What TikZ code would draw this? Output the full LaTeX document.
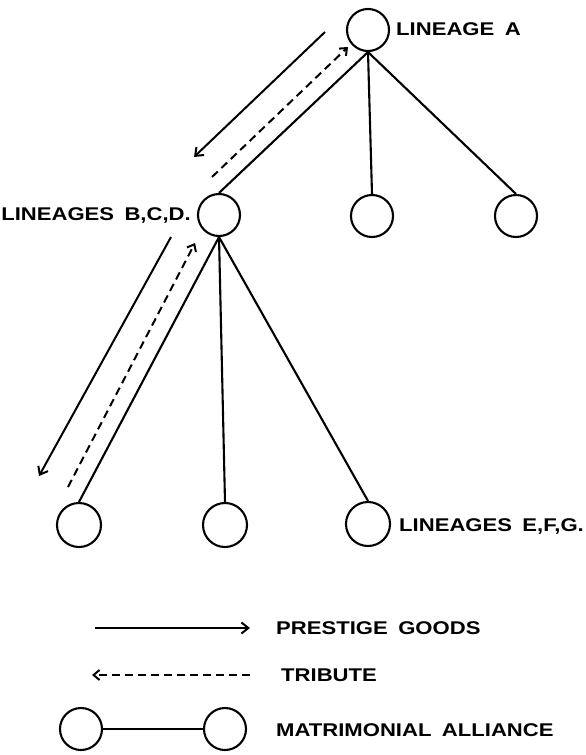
\documentclass[tikz,border=0pt]{standalone}
\usepackage{fontspec}
\newfontfamily\labfont[FakeStretch=1.2,WordSpace=1.7]{Liberation Sans Bold}
\usetikzlibrary{arrows.meta}
\begin{document}
\begin{tikzpicture}[x=1pt,y=-1pt,
  lin/.style={line width=2.1pt},
  circ/.style={circle,draw,line width=2.1pt,minimum size=42pt,inner sep=0pt},
  bigcirc/.style={circle,draw,line width=2.1pt,minimum size=44pt,inner sep=0pt},
  lab/.style={font=\labfont\fontsize{18.4}{20}\selectfont,inner sep=0pt,text height=13pt,text depth=0pt},
  goods/.style={line width=2pt,-{Straight Barb[length=7pt,width=11pt,line width=2pt]}},
  trib/.style={line width=2pt,dash pattern=on 8pt off 5pt,-{Straight Barb[length=6pt,width=10pt,line width=2pt]}}
]
\useasboundingbox (0,0) rectangle (586,755);
% nodes
\node[circ] (A) at (368,30) {};
\node[circ] (B) at (219,215) {};
\node[circ] (C) at (372,216) {};
\node[circ] (D) at (516,216) {};
\node[bigcirc] (E) at (79,525) {};
\node[bigcirc] (F) at (225,525) {};
\node[bigcirc] (G) at (368,524) {};
% labels
\node[lab,anchor=west] (la) at (396,29) {LINEAGE A};
\node[lab,anchor=east] (lb) at (191,214) {LINEAGES B,C,D.};
\node[lab,anchor=west] (lg) at (399,525) {LINEAGES E,F,G.};
% tree edges
\draw[lin] (A.south) -- (B.north);
\draw[lin] (A.south) -- (C.north);
\draw[lin] (A.south) -- (D.north);
\draw[lin] (B.south) -- (E.north);
\draw[lin] (B.south) -- (F.north);
\draw[lin] (B.south) -- (G.north);
% flow arrows
\coordinate (g1s) at (325,32);
\coordinate (g1e) at (194,157);
\coordinate (t1s) at (212,177);
\coordinate (t1e) at (348,47);
\coordinate (g2s) at (171,237);
\coordinate (g2e) at (39,476);
\coordinate (t2s) at (68,487);
\coordinate (t2e) at (195,243);
\draw[goods] (g1s) -- (g1e);
\draw[trib] (t1s) -- (t1e);
\draw[goods] (g2s) -- (g2e);
\draw[trib] (t2s) -- (t2e);
% legend
\coordinate (l1s) at (95,628);
\coordinate (l1e) at (250,628);
\coordinate (l2s) at (250,675);
\coordinate (l2e) at (92,675);
\draw[goods] (l1s) -- (l1e);
\draw[trib] (l2s) -- (l2e);
\node[lab,anchor=west] (tg) at (276,628) {PRESTIGE GOODS};
\node[lab,anchor=west] (tt) at (281,675) {TRIBUTE};
\node[circ] (m1) at (81,729) {};
\node[circ] (m2) at (225,729) {};
\draw[lin] (m1) -- (m2);
\node[lab,anchor=west] (tm) at (276,730) {MATRIMONIAL ALLIANCE};
\end{tikzpicture}
\end{document}
